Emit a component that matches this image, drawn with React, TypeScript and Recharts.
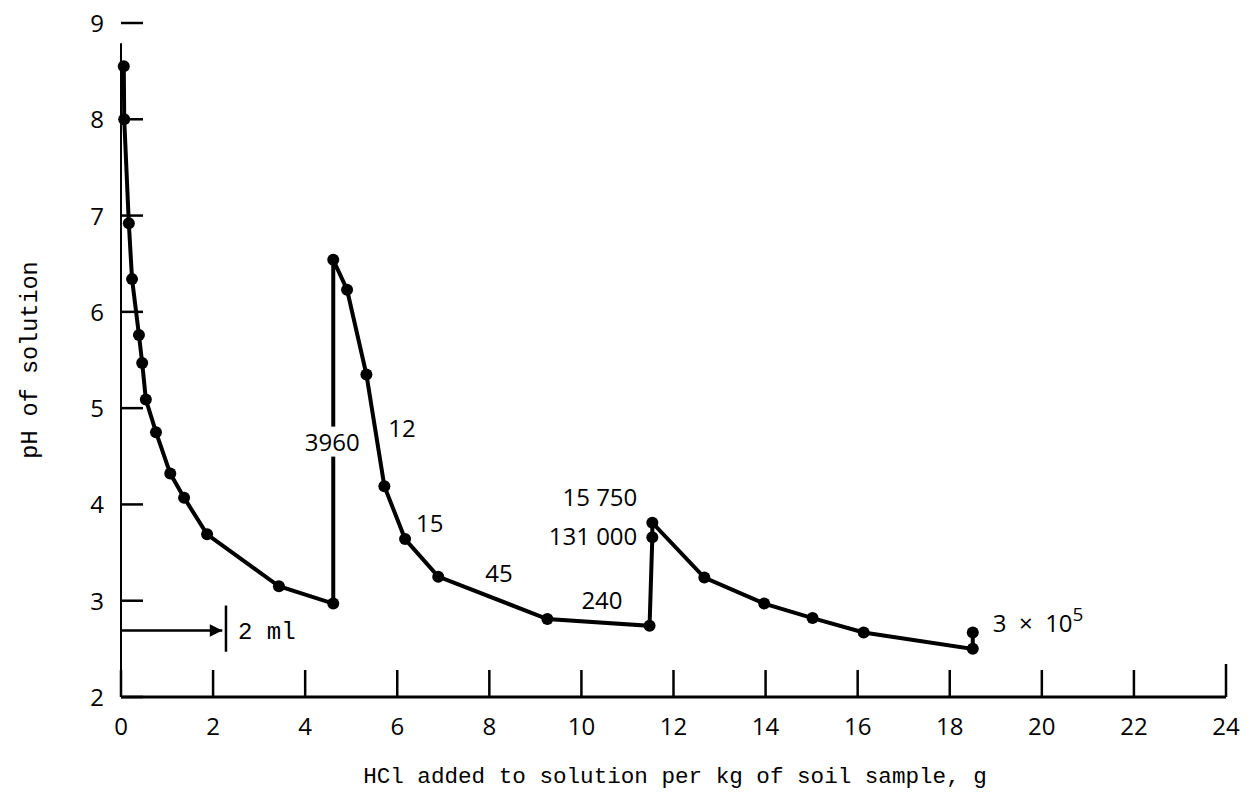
import { LineChart, Line, XAxis, YAxis, ReferenceLine, ReferenceDot } from "recharts";

// Titration curve: HCl added (g per kg soil) vs pH of solution
const HCL_G = [
  0.06, 0.07, 0.17, 0.24, 0.39, 0.46, 0.54, 0.76, 1.07, 1.37, 1.87, 3.43, 4.61,
  4.61, 4.91, 5.33, 5.72, 6.17, 6.89, 9.26, 11.48,
  11.54, 11.54, 12.67, 13.97, 15.02, 16.13, 18.5, 18.5,
];
const PH = [
  8.55, 8.0, 6.92, 6.34, 5.76, 5.47, 5.09, 4.75, 4.32, 4.07, 3.69, 3.15, 2.97,
  6.54, 6.23, 5.35, 4.19, 3.64, 3.25, 2.81, 2.74,
  3.66, 3.81, 3.24, 2.97, 2.82, 2.67, 2.5, 2.67,
];
const X_TICKS = [0, 2, 4, 6, 8, 10, 12, 14, 16, 18, 20, 22, 24];
const Y_TICKS = [2, 3, 4, 5, 6, 7, 8, 9];

// numbers written next to points (keyed by point index)
const POINT_NOTES: Record<number, string> = {
  12: "3960",
  16: "12",
  17: "15",
  18: "45",
  20: "240",
  21: "131 000",
  22: "15 750",
  28: "3\u00a0\u00a0\u00d7\u00a0\u00a010",
};

// pixel placement of those notes relative to their point
const NOTE_STYLE: Record<number, { dx: number; dy: number; anchor: "start" | "middle" | "end"; box?: boolean; sup?: string }> = {
  12: { dx: -1, dy: -162, anchor: "middle", box: true },
  16: { dx: 4, dy: -58, anchor: "start" },
  17: { dx: 11, dy: -16, anchor: "start" },
  18: { dx: 47, dy: -4, anchor: "start" },
  20: { dx: -27, dy: -26, anchor: "end" },
  21: { dx: -15, dy: -1, anchor: "end" },
  22: { dx: -15, dy: -26, anchor: "end" },
  28: { dx: 20, dy: -9, anchor: "start", sup: "5" },
};

const data = HCL_G.map((x, i) => ({ x, ph: PH[i] }));

const FONT = "'Open Sans', 'DejaVu Sans', sans-serif";
const MONO = "'Liberation Mono', 'DejaVu Sans Mono', monospace";

function XTick({ x, y, payload }: any) {
  const len = payload.value === 24 ? 33 : 27;
  return (
    <g>
      <line x1={x} x2={x} y1={y} y2={y - len} stroke="#000" strokeWidth={2.5} />
      <text x={x} y={y + 38} textAnchor="middle" fontSize={24} fontFamily={FONT} fill="#000">
        {payload.value}
      </text>
    </g>
  );
}

function YTick({ x, y, payload }: any) {
  return (
    <g>
      <line x1={x} x2={x + 22} y1={y} y2={y} stroke="#000" strokeWidth={2.5} />
      <text x={x - 17} y={y + 9} textAnchor="end" fontSize={24} fontFamily={FONT} fill="#000">
        {payload.value}
      </text>
    </g>
  );
}

function PointDot(props: any) {
  const { cx, cy, index } = props;
  const note = POINT_NOTES[index];
  const st = NOTE_STYLE[index];
  return (
    <g key={`dot-${index}`}>
      <circle cx={cx} cy={cy} r={6} fill="#000" />
      {note && st && (
        <g>
          {st.box && (
            <rect x={cx + st.dx - 32} y={cy + st.dy - 15} width={64} height={30} fill="#fff" />
          )}
          <text
            x={cx + st.dx}
            y={cy + st.dy + 9}
            textAnchor={st.anchor}
            fontSize={24}
            fontFamily={FONT}
            fill="#000"
          >
            {note}
            {st.sup && (
              <tspan dy={-11} fontSize={19}>
                {st.sup}
              </tspan>
            )}
          </text>
        </g>
      )}
    </g>
  );
}

export default function App() {
  return (
    <div style={{ position: "absolute", left: 0, top: 0, width: 1247, height: 807, background: "#fff" }}>
      <LineChart
        width={1247}
        height={807}
        data={data}
        margin={{ top: 23, right: 21, bottom: 50, left: 41 }}
      >
        <defs>
          <marker id="ml-arrow" viewBox="0 0 10 10" refX="10" refY="5" markerWidth="6" markerHeight="5" orient="auto">
            <path d="M0,0 L10,5 L0,10 z" fill="#000" />
          </marker>
        </defs>
        <XAxis
          type="number"
          dataKey="x"
          domain={[0, 24]}
          ticks={X_TICKS}
          interval={0}
          tickSize={0}
          tickMargin={0}
          tickLine={false}
          tick={<XTick />}
          axisLine={{ stroke: "#000", strokeWidth: 3 }}
          height={60}
          label={{
            content: () => (
              <text x={675} y={783} textAnchor="middle" fontSize={22.6} fontFamily={MONO} fill="#000">
                HCl added to solution per kg of soil sample, g
              </text>
            ),
          }}
        />
        <YAxis
          type="number"
          dataKey="ph"
          domain={[2, 9]}
          ticks={Y_TICKS}
          interval={0}
          tickSize={0}
          tickMargin={0}
          tickLine={false}
          tick={<YTick />}
          axisLine={false}
          width={80}
          label={{
            content: () => (
              <text
                x={37}
                y={360}
                transform="rotate(-90 37 360)"
                textAnchor="middle"
                fontSize={23.5}
                fontFamily={MONO}
                fill="#000"
              >
                pH of solution
              </text>
            ),
          }}
        />
        {/* y axis spine (stops short of the 9 tick as in the original) */}
        <ReferenceLine
          segment={[{ x: 0, y: 2 }, { x: 0, y: 8.79 }]}
          stroke="#000"
          strokeWidth={2}
          ifOverflow="visible"
        />
        {/* "2 ml" scale marker */}
        <ReferenceLine
          segment={[{ x: 0, y: 2.69 }, { x: 2.2, y: 2.69 }]}
          stroke="#000"
          strokeWidth={2.5}
          markerEnd="url(#ml-arrow)"
        />
        <ReferenceLine
          segment={[{ x: 2.28, y: 2.47 }, { x: 2.28, y: 2.95 }]}
          stroke="#000"
          strokeWidth={2.5}
        />
        <ReferenceDot
          x={2.28}
          y={2.69}
          r={0}
          fill="none"
          stroke="none"
          label={{ value: "2 ml", position: "right", offset: 12, fontSize: 24, fontFamily: MONO, fill: "#000" }}
        />
        <Line
          type="linear"
          dataKey="ph"
          stroke="#000"
          strokeWidth={4}
          dot={PointDot}
          activeDot={false}
          isAnimationActive={false}
        />
      </LineChart>
    </div>
  );
}
